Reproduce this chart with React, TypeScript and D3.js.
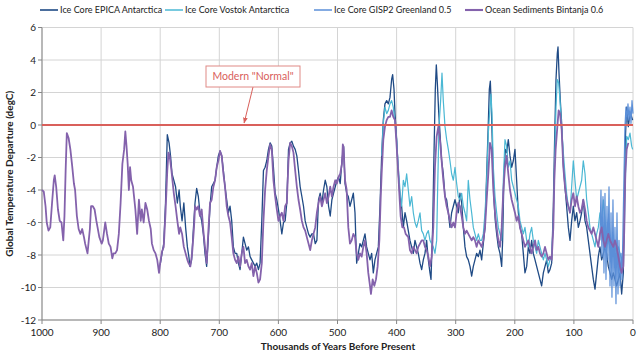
import * as d3 from "d3";

// ka before present, temperature departure (degC)
const epica: [number, number][] = [
  [800,-8.6],[797,-7.9],[794,-7.3],[791,-4.8],[788,-0.6],[785,-1.1],[782.5,-1.9],[780,-3.0],[777,-3.4],[774,-3.8],[771,-4.8],[768,-4.0],[766,-5.0],[763,-5.9],[760,-4.8],[757,-6.3],[754,-7.5],[751.5,-8.1],[749.6,-8.7],[746.8,-8.3],[744,-6.5],[741.1,-4.8],[738.3,-3.9],[735.5,-4.4],[732.7,-5.4],[729.8,-5.9],[727,-6.7],[724.2,-7.9],[721.4,-8.7],[718.5,-6.9],[715.7,-5.0],[712.9,-3.8],[710,-3.6],[707.2,-3.4],[704.4,-2.6],[701.6,-1.9],[698.7,-1.6],[695.9,-1.9],[693.1,-2.8],[690.3,-3.8],[687.5,-4.6],[684.6,-5.4],[681.8,-5.0],[679,-5.9],[676.2,-7.5],[673.3,-7.9],[670.5,-7.9],[667.7,-8.5],[664.9,-8.9],[662,-7.9],[659.2,-6.9],[656.4,-7.3],[653.6,-7.7],[650.7,-7.5],[647.9,-8.1],[645.1,-8.3],[642.3,-8.5],[639.4,-8.7],[636.6,-8.5],[633.8,-8.9],[631,-8.5],[628.1,-5.9],[625.3,-2.8],[622.5,-2.6],[619.7,-2.2],[616.8,-1.5],[614,-1.1],[611.2,-1.3],[608.4,-2.6],[605.5,-4.2],[602.7,-4.6],[599.9,-5.2],[597.1,-5.9],[594.2,-6.7],[591.4,-6.0],[588.6,-5.9],[585.8,-4.8],[582.9,-1.5],[580.1,-1.1],[577.3,-1.0],[574.5,-1.3],[571.6,-1.5],[568.8,-1.9],[566,-2.8],[563.2,-3.8],[560.3,-4.4],[557.5,-5.0],[554.7,-5.9],[551.9,-6.3],[549,-6.7],[546.2,-6.9],[543.4,-6.7],[540.6,-6.7],[537.7,-7.3],[534.9,-7.1],[532.1,-4.6],[529.3,-4.2],[526.4,-4.8],[523.6,-4.0],[520.8,-3.4],[518,-3.8],[515.1,-5.0],[512.3,-5.6],[509.5,-4.6],[506.7,-4.2],[503.8,-3.8],[501,-3.4],[498.2,-3.2],[495.4,-3.6],[492.5,-2.2],[489.7,-1.3],[487.3,-3.6],[484.5,-4.2],[481.7,-4.4],[478.9,-5.0],[476,-4.6],[473.2,-4.2],[470.4,-5.4],[467.6,-8.5],[464.8,-7.9],[462,-7.3],[459.1,-7.5],[456.3,-7.1],[453.5,-6.7],[450.7,-7.5],[447.9,-7.9],[445,-8.3],[442.2,-7.9],[439.4,-9.1],[436.6,-8.3],[433.8,-7.9],[430.9,-7.5],[428.1,-5.0],[425.3,-1.9],[422.5,0.3],[419.7,1.3],[416.8,1.5],[414,1.3],[411.2,1.7],[408.4,2.8],[406.7,3.1],[404.4,2.2],[402.7,0.7],[399.9,-0.9],[397.1,-3.0],[394.3,-4.4],[391.5,-5.0],[388.6,-6.3],[385.8,-5.4],[383,-5.9],[380.2,-6.5],[377.4,-7.1],[374.5,-7.5],[371.7,-7.9],[368.9,-7.1],[366.1,-7.5],[363.3,-7.9],[360.4,-8.5],[357.6,-8.9],[354.8,-8.3],[352,-7.9],[349.2,-7.1],[346.3,-8.3],[343.5,-9.1],[341.8,-9.5],[339,-6.3],[336.8,-1.9],[334.5,2.2],[332.8,3.7],[331.1,2.6],[328.9,0.9],[326.6,-0.5],[323.8,-2.2],[321,-3.0],[318.1,-4.4],[315.3,-4.6],[312.5,-5.4],[309.7,-6.3],[306.9,-5.4],[304,-5.0],[301.2,-4.6],[298.4,-5.0],[295.6,-5.4],[292.8,-4.2],[289.9,-4.8],[287.1,-6.3],[284.3,-7.5],[281.5,-8.1],[278.7,-8.3],[275.8,-8.7],[273,-9.3],[270.2,-8.7],[267.4,-8.3],[264.6,-7.9],[261.7,-8.1],[258.9,-7.7],[256.1,-8.3],[253.3,-7.3],[250.4,-6.3],[247.6,-3.0],[244.8,0.1],[243.1,2.2],[241.4,2.7],[239.7,1.1],[237.5,-1.9],[235.2,-4.6],[233,-5.9],[230.7,-6.7],[227.9,-7.5],[225.1,-7.9],[222.2,-8.7],[220.6,-7.1],[218.3,-3.0],[216,-1.5],[213.8,-1.7],[211,-0.9],[208.1,-1.9],[205.3,-2.6],[202.5,-2.2],[199.7,-1.5],[196.9,-3.4],[194,-5.4],[191.2,-6.3],[188.4,-6.7],[185.6,-7.9],[182.8,-9.1],[179.9,-8.7],[177.1,-7.5],[174.3,-7.9],[171.5,-7.1],[168.7,-7.9],[165.8,-8.3],[163,-8.7],[160.2,-9.1],[157.4,-9.5],[154.6,-9.9],[151.7,-9.1],[148.9,-8.7],[146.1,-8.3],[143.3,-9.1],[140.5,-8.9],[137.6,-8.5],[134.8,-5.0],[132.6,-0.9],[130.3,2.8],[128.1,4.4],[126.9,4.8],[125.2,3.2],[123,1.5],[120.7,0.1],[117.9,-2.4],[115.1,-3.8],[112.3,-5.0],[109.4,-6.3],[106.6,-7.1],[103.8,-5.9],[101,-5.0],[98.2,-5.9],[95.3,-5.4],[92.5,-6.3],[89.7,-5.9],[86.9,-5.4],[84.1,-4.6],[81.2,-5.9],[78.4,-6.3],[75.6,-7.1],[72.8,-7.9],[70,-8.7],[67.1,-9.5],[64.3,-10.1],[61.5,-9.1],[58.7,-8.1],[55.9,-7.5],[53,-8.3],[50.2,-7.9],[47.4,-7.5],[44.6,-7.9],[41.8,-8.7],[38.9,-9.1],[36.1,-9.5],[33.3,-9.1],[30.5,-9.5],[27.7,-9.9],[24.8,-9.5],[22,-9.1],[19.2,-10.4],[16.4,-9.1],[14.7,-5.0],[13,-0.9],[10.7,1.1],[7.9,-0.1],[5.1,0.7],[2.3,0.5],[0.6,0.3],
];

const vostok: [number, number][] = [
  [425.3,-1.9],[422.5,0.1],[419.7,1.1],[416.8,0.7],[414,0.9],[411.2,1.3],[408.4,1.5],[405.6,1.1],[402.7,0.1],[399.9,-0.9],[397.1,-2.6],[394.3,-4.0],[391.5,-5.0],[388.6,-3.4],[385.8,-3.8],[383,-3.0],[380.2,-4.0],[377.4,-5.0],[374.5,-4.4],[371.7,-5.4],[368.9,-6.0],[366.1,-6.3],[363.3,-5.9],[360.4,-5.4],[357.6,-6.5],[354.8,-6.7],[352,-7.1],[349.2,-6.7],[346.3,-6.5],[343.5,-7.1],[340.7,-7.3],[337.9,-7.5],[335.1,-7.9],[332.2,-7.1],[330.6,-4.0],[328.3,-0.1],[325.5,1.5],[323.2,3.2],[321,1.5],[318.1,-0.1],[315.3,-0.9],[312.5,-1.5],[309.7,-2.2],[306.9,-3.0],[304,-3.4],[301.2,-2.6],[298.4,-3.6],[295.6,-4.4],[292.8,-4.6],[289.9,-4.2],[287.1,-5.0],[284.3,-5.4],[281.5,-5.9],[278.7,-3.4],[275.8,-4.6],[273,-5.4],[270.2,-6.3],[267.4,-6.7],[264.6,-7.1],[261.7,-6.7],[258.9,-7.1],[256.1,-7.1],[253.3,-6.7],[250.4,-5.4],[247.6,-3.4],[244.8,-0.5],[242,1.1],[240.3,1.9],[238.6,0.7],[236.3,-2.6],[233.5,-4.4],[230.7,-5.4],[227.9,-6.3],[225.1,-6.7],[222.2,-7.1],[219.4,-3.4],[216.6,-0.9],[213.8,-1.3],[211,-2.6],[208.1,-2.2],[205.3,-3.4],[202.5,-3.8],[199.7,-4.2],[196.9,-4.6],[194,-5.0],[191.2,-5.9],[188.4,-6.3],[185.6,-6.7],[182.8,-6.3],[179.9,-7.1],[177.1,-7.5],[174.3,-6.7],[171.5,-6.3],[168.7,-7.1],[165.8,-7.5],[163,-7.9],[160.2,-7.1],[157.4,-7.5],[154.6,-7.9],[151.7,-8.3],[148.9,-7.9],[146.1,-8.3],[143.3,-8.7],[140.5,-8.3],[137.6,-8.1],[134.8,-5.9],[132.6,-2.2],[130.3,1.1],[128.1,2.8],[125.8,2.6],[123.5,1.5],[120.7,-0.1],[117.9,-1.7],[115.1,-3.0],[112.3,-4.2],[109.4,-5.0],[106.6,-5.4],[103.8,-3.8],[101,-2.2],[98.2,-3.4],[95.3,-4.6],[92.5,-4.2],[89.7,-3.8],[86.9,-3.4],[84.1,-2.2],[81.2,-3.0],[78.4,-4.6],[75.6,-5.4],[72.8,-6.3],[70,-6.7],[67.1,-7.1],[64.3,-7.5],[61.5,-6.7],[58.7,-6.3],[55.9,-5.4],[53,-5.9],[50.2,-4.6],[47.4,-5.9],[44.6,-6.7],[41.8,-7.1],[38.9,-7.5],[36.1,-7.9],[33.3,-7.1],[30.5,-7.5],[27.7,-7.9],[24.8,-7.5],[22,-7.9],[19.2,-8.3],[16.4,-7.9],[14.7,-6.3],[12.4,-2.6],[10.7,-0.7],[7.9,-0.9],[5.1,-0.5],[2.3,-1.3],[0.6,-1.5],
];

const gisp2: [number, number][] = [
  [55.9,-7.1],[54.2,-4.0],[52.5,-8.1],[50.8,-4.4],[49.1,-9.1],[47.4,-4.2],[45.7,-9.5],[44,-5.0],[42.3,-8.3],[40.6,-3.8],[38.9,-9.9],[37.2,-5.4],[35.6,-10.6],[33.9,-4.6],[32.2,-9.9],[30.5,-6.3],[28.8,-11.0],[27.1,-5.4],[25.4,-10.4],[23.7,-7.1],[22,-9.9],[20.3,-7.9],[18.6,-9.5],[16.9,-6.3],[15.2,-3.0],[13.6,-0.1],[11.9,1.1],[10.2,0.3],[8.5,1.3],[6.8,0.3],[5.1,1.1],[3.4,0.1],[1.7,1.5],[0,0.7],
];

const bintanja: [number, number][] = [
  [1000,-4.0],[997,-4.1],[994,-5.0],[992,-6.0],[989,-6.5],[986,-6.3],[983,-4.8],[980,-3.4],[978.5,-3.1],[976,-3.8],[973,-5.2],[970,-5.9],[967,-6.0],[964,-7.1],[962,-5.6],[960,-2.8],[958,-0.5],[955,-0.8],[952,-1.5],[949,-2.5],[946,-3.6],[944,-4.0],[941,-5.6],[938,-6.4],[935,-6.7],[932,-6.4],[929,-6.9],[927,-7.3],[923,-7.9],[919,-6.4],[917,-5.0],[914,-5.0],[911,-5.2],[908,-5.9],[906,-6.3],[903,-6.9],[899,-7.3],[897,-7.1],[893,-6.0],[890,-6.7],[887,-7.3],[884,-7.5],[881,-8.2],[879,-7.9],[876,-7.9],[873,-7.7],[870,-6.7],[867,-4.8],[864,-2.4],[861,-1.5],[859,-0.4],[857,-1.3],[855,-2.4],[853,-4.0],[851,-2.6],[849,-3.4],[846,-3.8],[842,-5.2],[839,-6.7],[836,-4.6],[833,-5.9],[831,-5.2],[828,-6.0],[825,-4.8],[822,-5.2],[819,-5.9],[816,-6.4],[814,-7.3],[811,-7.7],[808,-7.9],[805,-8.3],[802,-9.1],[800,-8.5],[797,-7.8],[794,-7.5],[791,-5.4],[788,-2.8],[786,-1.7],[784,-1.9],[781,-2.8],[777,-4.2],[774,-5.0],[771,-5.9],[768,-6.7],[766,-6.3],[763,-6.7],[760,-7.5],[757,-7.9],[754,-8.3],[752,-8.5],[749,-8.7],[746,-7.9],[742.8,-6.3],[741,-5.0],[738.3,-5.2],[735.5,-5.0],[732.7,-5.6],[729.8,-5.2],[727,-6.5],[724.2,-7.5],[721.4,-8.5],[718.5,-6.5],[715.7,-4.8],[712.9,-4.6],[710,-3.8],[707.2,-3.4],[704.4,-2.6],[701.6,-2.2],[698.7,-1.6],[695.9,-1.9],[693.1,-3.0],[690.3,-3.8],[687.5,-5.0],[684.6,-5.6],[681.8,-6.0],[679,-6.9],[676.2,-7.9],[673.3,-8.3],[670.5,-8.5],[667.7,-8.1],[664.9,-8.7],[662,-7.9],[659.2,-7.5],[656.4,-8.5],[653.6,-8.3],[650.7,-8.7],[647.9,-8.9],[645.1,-8.5],[642.3,-9.3],[639.4,-8.7],[636.6,-9.1],[633.8,-9.7],[631,-9.5],[628.1,-8.5],[625.3,-5.9],[622.5,-4.0],[619.7,-2.8],[616.8,-1.9],[614,-1.2],[611.2,-1.5],[608.4,-3.4],[605.5,-4.4],[602.7,-5.2],[599.9,-5.9],[597.1,-5.6],[594.2,-5.4],[591.4,-5.9],[588.6,-5.0],[585.8,-4.8],[582.9,-2.2],[580.1,-1.1],[577.3,-1.3],[574.5,-1.7],[571.6,-2.8],[568.8,-3.8],[566,-4.6],[563.2,-5.2],[560.3,-5.9],[557.5,-6.3],[554.7,-6.5],[551.9,-6.9],[549,-7.3],[546.2,-7.7],[543.4,-7.1],[540.6,-6.7],[537.7,-6.3],[534.9,-5.4],[532.1,-4.8],[529.3,-4.4],[526.4,-5.0],[523.6,-4.6],[520.8,-4.2],[518,-4.8],[515.1,-4.4],[512.3,-3.8],[509.5,-4.4],[506.7,-3.8],[503.8,-3.4],[501,-3.6],[498.2,-3.2],[495.4,-3.0],[492.5,-2.4],[491,-1.2],[489.7,-1.4],[487.3,-3.4],[484.5,-4.0],[481.7,-6.3],[478.9,-7.3],[476,-7.1],[473.2,-6.7],[470.4,-6.9],[467.6,-7.9],[464.8,-8.3],[462,-7.9],[459.1,-8.1],[456.3,-7.5],[453.5,-7.1],[450.7,-7.9],[447.9,-9.1],[445,-9.9],[443.4,-10.4],[440.5,-9.5],[437.7,-9.9],[434.9,-9.5],[432.1,-8.7],[429.2,-7.1],[427,-4.6],[425.3,-3.0],[422.5,-0.9],[419.7,-0.1],[416.8,0.3],[414,0.5],[411.2,0.5],[408.4,0.9],[405.6,0.5],[402.7,0.3],[399.9,-1.3],[397.1,-3.0],[395.4,-4.2],[393.2,-5.6],[390.3,-6.3],[387.5,-6.3],[384.7,-6.7],[380.2,-6.9],[377.4,-7.7],[374.5,-7.9],[371.7,-7.5],[368.9,-7.7],[366.1,-7.9],[363.3,-7.5],[360.4,-7.3],[357.6,-7.1],[354.8,-7.1],[352,-7.5],[349.2,-7.7],[346.3,-8.1],[343.5,-8.7],[340.7,-8.1],[337.9,-6.3],[335.1,-2.6],[332.2,-0.7],[329.4,-0.1],[326.6,-0.9],[323.8,-2.2],[321,-3.4],[318.1,-4.4],[315.3,-5.0],[312.5,-5.4],[309.7,-5.9],[306.9,-6.3],[304,-6.0],[301.2,-6.3],[298.4,-5.4],[295.6,-4.8],[292.8,-5.0],[289.9,-5.6],[287.1,-6.3],[284.3,-6.7],[281.5,-6.5],[278.7,-6.7],[275.8,-6.9],[273,-7.1],[270.2,-6.9],[267.4,-7.1],[264.6,-7.5],[261.7,-7.1],[258.9,-7.3],[256.1,-7.5],[253.3,-7.1],[250.4,-6.3],[247.6,-4.6],[244.8,-3.0],[242,-1.1],[239.2,-1.5],[236.3,-4.0],[233.5,-5.4],[230.7,-6.3],[227.9,-7.1],[225.1,-7.5],[222.2,-6.3],[219.4,-4.0],[216.6,-2.6],[213.8,-1.9],[211,-3.0],[208.1,-4.0],[205.3,-4.6],[202.5,-5.0],[199.7,-5.4],[196.9,-5.9],[194,-5.6],[191.2,-6.3],[188.4,-6.7],[185.6,-7.1],[182.8,-7.5],[179.9,-7.3],[177.1,-7.1],[174.3,-7.5],[171.5,-7.9],[168.7,-7.5],[165.8,-7.1],[163,-7.7],[160.2,-7.5],[157.4,-7.9],[154.6,-8.1],[151.7,-7.9],[148.9,-7.5],[146.1,-7.9],[143.3,-8.3],[140.5,-8.1],[137.6,-8.3],[134.8,-6.3],[133.1,-3.4],[130.9,-1.5],[128,-0.1],[125.8,0.9],[123.5,0.7],[120.7,-0.3],[117.9,-2.6],[115.1,-3.8],[112.3,-4.6],[109.4,-5.0],[106.6,-5.4],[103.8,-4.6],[101,-4.2],[98.2,-5.0],[95.3,-4.4],[92.5,-5.0],[89.7,-5.4],[86.9,-5.2],[84.1,-4.6],[81.2,-5.2],[78.4,-5.9],[75.6,-6.3],[72.8,-6.5],[70,-6.7],[67.1,-6.3],[64.3,-6.7],[61.5,-7.1],[58.7,-7.5],[55.9,-6.7],[53,-6.3],[50.2,-7.1],[47.4,-7.5],[44.6,-7.1],[41.8,-6.7],[38.9,-7.1],[36.1,-7.3],[33.3,-7.5],[30.5,-7.1],[27.7,-7.5],[24.8,-8.1],[22,-8.7],[19.2,-9.1],[16.4,-8.7],[14.7,-6.3],[13,-3.0],[10.7,-1.5],[7.9,-1.1],
];

const xTicks = [1000, 900, 800, 700, 600, 500, 400, 300, 200, 100, 0];
const yTicks = [6, 4, 2, 0, -2, -4, -6, -8, -10, -12];
const modernNormal = 0;

const series = [
  { name: "Ice Core EPICA Antarctica", data: epica, color: "#1f4a85", width: 1.3 },
  { name: "Ice Core Vostok Antarctica", data: vostok, color: "#4bb8d4", width: 1.2 },
  { name: "Ice Core GISP2  Greenland 0.5", data: gisp2, color: "#5b8fd8", width: 1.2 },
  { name: "Ocean Sediments Bintanja 0.6", data: bintanja, color: "#8462ac", width: 1.8 },
];
const legendX = [40, 165, 314, 465];

const W = 640, H = 361;
const m = { left: 42, right: 7, top: 27.5, bottom: 41 };
const font = "Lato, 'Open Sans', sans-serif";

export default function App() {
  const x = d3.scaleLinear().domain([1000, 0]).range([m.left, W - m.right]);
  const y = d3.scaleLinear().domain([-12, 6]).range([H - m.bottom, m.top]);
  const line = d3.line<[number, number]>().x(d => x(d[0])).y(d => y(d[1]));

  const boxX = 206, boxY = 66, boxW = 94, boxH = 21;
  const tipX = x(658), tipY = y(modernNormal) - 2;

  return (
    <svg width={W} height={H} style={{ position: "absolute", left: 0, top: 0, background: "#fff" }} fontFamily={font}>
      <defs>
        <marker id="arr" viewBox="0 0 10 10" refX="9" refY="5" markerWidth="6" markerHeight="6" orient="auto">
          <path d="M0,1 L10,5 L0,9 z" fill="#d9605b" />
        </marker>
      </defs>
      {/* grid */}
      {yTicks.map(t => (
        <line key={"gy" + t} x1={m.left} x2={W - m.right} y1={y(t)} y2={y(t)} stroke="#d4d4d4" strokeWidth={1} />
      ))}
      {xTicks.map(t => (
        <line key={"gx" + t} x1={x(t)} x2={x(t)} y1={m.top} y2={H - m.bottom} stroke="#d4d4d4" strokeWidth={1} />
      ))}
      {/* axes */}
      <line x1={m.left} x2={m.left} y1={m.top} y2={H - m.bottom} stroke="#878787" />
      <line x1={m.left} x2={W - m.right} y1={H - m.bottom} y2={H - m.bottom} stroke="#878787" />
      {yTicks.map(t => (
        <g key={"ty" + t}>
          <line x1={m.left - 4} x2={m.left} y1={y(t)} y2={y(t)} stroke="#878787" />
          <text x={m.left - 6} y={y(t)} dy="0.35em" textAnchor="end" fontSize={10} fill="#222">{t}</text>
        </g>
      ))}
      {xTicks.map(t => (
        <g key={"tx" + t}>
          <line x1={x(t)} x2={x(t)} y1={H - m.bottom} y2={H - m.bottom + 4} stroke="#878787" />
          <text x={x(t)} y={H - m.bottom + 16} textAnchor="middle" fontSize={10} fill="#222">{t}</text>
        </g>
      ))}
      {/* series */}
      {series.map(s => (
        <path key={s.name} d={line(s.data) ?? ""} fill="none" stroke={s.color} strokeWidth={s.width} strokeLinejoin="round" />
      ))}
      {/* modern normal line */}
      <line x1={m.left} x2={W - m.right} y1={y(modernNormal)} y2={y(modernNormal)} stroke="#d9605b" strokeWidth={2} />
      <line x1={253} y1={boxY + boxH} x2={tipX} y2={tipY} stroke="#d9605b" strokeWidth={1} markerEnd="url(#arr)" />
      <rect x={boxX} y={boxY} width={boxW} height={boxH} fill="#fff" stroke="#e08a86" strokeWidth={1} />
      <text x={boxX + boxW / 2} y={boxY + boxH / 2} dy="0.36em" textAnchor="middle" fontSize={10.5} fill="#d9605b">Modern "Normal"</text>
      {/* legend */}
      {series.map((s, i) => (
        <g key={"lg" + i}>
          <line x1={legendX[i]} x2={legendX[i] + 18} y1={10} y2={10} stroke={s.color} strokeWidth={s.width + 0.3} />
          <text x={legendX[i] + 20} y={10} dy="0.35em" fontSize={9} fill="#222">{s.name}</text>
        </g>
      ))}
      {/* axis titles */}
      <text x={338} y={350} textAnchor="middle" fontSize={10} fontWeight="bold" fill="#222">Thousands of Years Before Present</text>
      <text transform={`translate(13, ${(m.top + H - m.bottom) / 2}) rotate(-90)`} textAnchor="middle" fontSize={10} fontWeight="bold" fill="#222">Global Temperature Departure (degC)</text>
    </svg>
  );
}
